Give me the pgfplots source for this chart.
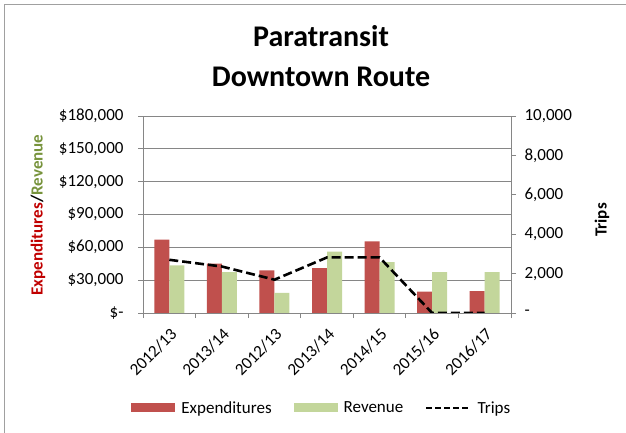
\documentclass[border=0pt]{standalone}
\usepackage{fontspec}
\setmainfont{Carlito}
\usepackage{pgfplots}
\usepackage{pgfplotstable}
\pgfplotsset{compat=1.18}

\definecolor{expred}{HTML}{C0504D}
\definecolor{revgreen}{HTML}{C3D69B}
\definecolor{labred}{HTML}{C00000}
\definecolor{labgreen}{HTML}{77933C}
\definecolor{gridgray}{HTML}{868686}
\definecolor{framegray}{HTML}{A0A0A0}

% Paratransit, Downtown Route: dollars and trips per year
\pgfplotstableread{
x exp   rev   trips
0 67000 43500 2700
1 45000 37300 2360
2 39000 18500 1690
3 41000 56000 2820
4 65500 46500 2820
5 19500 37300 0
6 20000 37300 0
}\routedata

\newcommand{\tickfont}{\fontsize{17bp}{20bp}\selectfont}

\begin{document}
\begin{tikzpicture}
\pgfplotsset{
  common/.style={
    at={(143bp,120bp)}, anchor=south west,
    scale only axis, width=368bp, height=197bp,
    xmin=-0.5, xmax=6.5,
    scaled y ticks=false,
    /pgf/number format/assume math mode=true,
    tick align=outside, major tick length=5bp,
    tick style={gridgray, line width=0.8bp},
    axis line style={gridgray, line width=0.8bp, -},
    tick label style={font=\tickfont, black},
  },
}
% dollars, left axis
\begin{axis}[
  common,
  ymin=0, ymax=180000,
  axis x line*=bottom, axis y line*=left,
  ytick={0,30000,60000,90000,120000,150000,180000},
  yticklabels={\$-,{\$30,000},{\$60,000},{\$90,000},{\$120,000},{\$150,000},{\$180,000}},
  yticklabel style={xshift=-11bp},
  ymajorgrids, grid style={gridgray, line width=0.8bp},
  xtick={-0.5,0.5,...,6.5},
  x tick label as interval,
  xticklabels={2012/13,2013/14,2012/13,2013/14,2014/15,2015/16,2016/17},
  xticklabel style={yshift=-8bp, rotate=45, anchor=north east, inner sep=0.5bp},
  ybar=0pt, bar width=15bp,
  legend columns=3,
  legend style={at={(0.486,-0.482)}, anchor=center, draw=none,
    font=\tickfont, inner sep=0pt,
    /tikz/every odd column/.append style={column sep=4bp},
    /tikz/every even column/.append style={column sep=20bp}},
]
\addplot[fill=expred, draw=none,
  legend image code/.code={\fill[expred] (0bp,-4.5bp) rectangle (44bp,4.5bp);}]
  table[x=x, y=exp] {\routedata};
\addlegendentry{Expenditures}
\addplot[fill=revgreen, draw=none,
  legend image code/.code={\fill[revgreen] (0bp,-4.5bp) rectangle (44bp,4.5bp);}]
  table[x=x, y=rev] {\routedata};
\addlegendentry{Revenue}
\addlegendimage{legend image code/.code={\draw[black, line width=2.4bp, dash pattern=on 6bp off 3bp] (0bp,0bp) -- (44bp,0bp);}}
\addlegendentry{Trips}
\end{axis}

% trips, right axis
\begin{axis}[
  common,
  ymin=0, ymax=10000,
  axis x line=none, axis y line*=right,
  ytick={0,2000,4000,6000,8000,10000},
  yticklabels={-,{2,000},{4,000},{6,000},{8,000},{10,000}},
  yticklabel style={xshift=5bp},
]
\addplot[black, line width=2.6bp, dash pattern=on 9bp off 4bp]
  table[x=x, y=trips] {\routedata};
\end{axis}

% title and axis titles
\node[anchor=base, font=\fontsize{30bp}{36bp}\selectfont\bfseries] at (321bp,386bp) {Paratransit};
\node[anchor=base, font=\fontsize{30bp}{36bp}\selectfont\bfseries] at (321bp,346bp) {Downtown Route};
\node[rotate=90, font=\fontsize{17bp}{20bp}\selectfont\bfseries] at (38bp,218bp)
  {\textcolor{labred}{Expenditures}/\textcolor{labgreen}{Revenue}};
\node[rotate=90, font=\fontsize{17bp}{20bp}\selectfont\bfseries] at (602bp,213bp) {Trips};

% chart frame
\draw[framegray, line width=1bp] (4bp,0bp) -- (4bp,428bp) -- (626bp,428bp);

\pgfresetboundingbox
\path (0bp,0bp) rectangle (626bp,433bp);
\end{tikzpicture}
\end{document}
